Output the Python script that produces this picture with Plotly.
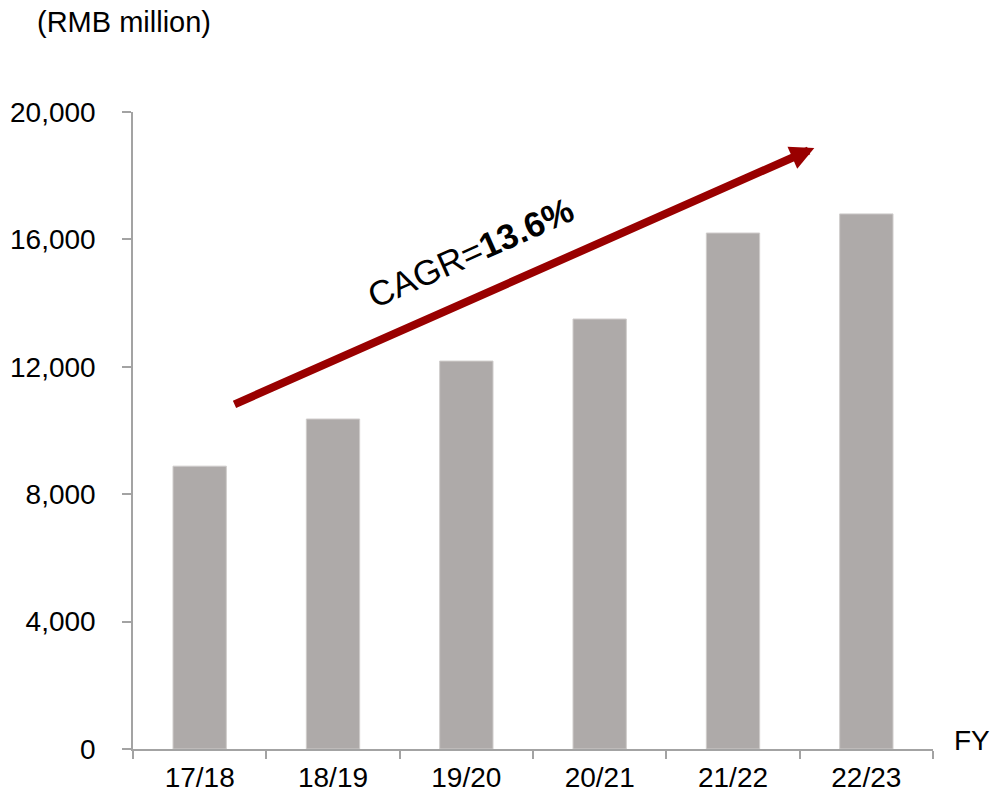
import plotly.graph_objects as go

# Fiscal years and revenue (RMB million)
years = ["17/18", "18/19", "19/20", "20/21", "21/22", "22/23"]
revenue = [8880, 10360, 12180, 13500, 16200, 16800]
y_ticks = [0, 4000, 8000, 12000, 16000, 20000]
cagr_label = "CAGR=<b>13.6%</b>"

axis_grey = "#A3A3A3"
bar_grey = "#AEAAA9"
arrow_red = "#990000"
font_family = "Liberation Sans, Arial, sans-serif"

fig = go.Figure(
    go.Bar(
        x=years,
        y=revenue,
        width=0.4,
        marker=dict(color=bar_grey, line=dict(color="#CFCCCB", width=1)),
        hoverinfo="x+y",
    )
)

fig.update_layout(
    width=991,
    height=795,
    margin=dict(l=133, r=58, t=112, b=46),
    paper_bgcolor="white",
    plot_bgcolor="white",
    showlegend=False,
    font=dict(family=font_family, size=28, color="black"),
    xaxis=dict(
        type="category",
        automargin=False,
        showline=True,
        linecolor=axis_grey,
        linewidth=1.5,
        ticks="outside",
        tickson="boundaries",
        ticklen=8,
        tickcolor=axis_grey,
        tickwidth=1.5,
        showgrid=False,
        zeroline=False,
        tickfont=dict(size=28),
        ticklabelstandoff=3,
    ),
    yaxis=dict(
        range=[0, 20000],
        automargin=False,
        tickvals=y_ticks,
        tickformat=",",
        showline=True,
        linecolor=axis_grey,
        linewidth=1.5,
        ticks="outside",
        ticklen=9,
        tickcolor=axis_grey,
        tickwidth=1.5,
        showgrid=False,
        zeroline=False,
        tickfont=dict(size=28),
        ticklabelstandoff=21,
    ),
)

# Growth arrow, drawn from the first year toward the last
fig.add_annotation(
    x=4.61, y=18870, xref="x", yref="y",
    ax=0.25, ay=10800, axref="x", ayref="y",
    text="",
    showarrow=True,
    arrowhead=2,
    arrowwidth=8,
    arrowsize=0.6,
    arrowcolor=arrow_red,
)

fig.add_annotation(
    x=2.03, y=15600, xref="x", yref="y",
    text=cagr_label,
    showarrow=False,
    textangle=-24,
    font=dict(size=35, color="black"),
)

# Unit label and axis title
fig.add_annotation(
    x=-0.1225, y=1.141, xref="paper", yref="paper",
    xanchor="left", yanchor="middle",
    text="(RMB million)", showarrow=False,
    font=dict(size=29),
)
fig.add_annotation(
    x=1.024, y=0.014, xref="paper", yref="paper",
    xanchor="left", yanchor="middle",
    text="FY", showarrow=False,
    font=dict(size=28),
)

fig.write_html("out.html")
